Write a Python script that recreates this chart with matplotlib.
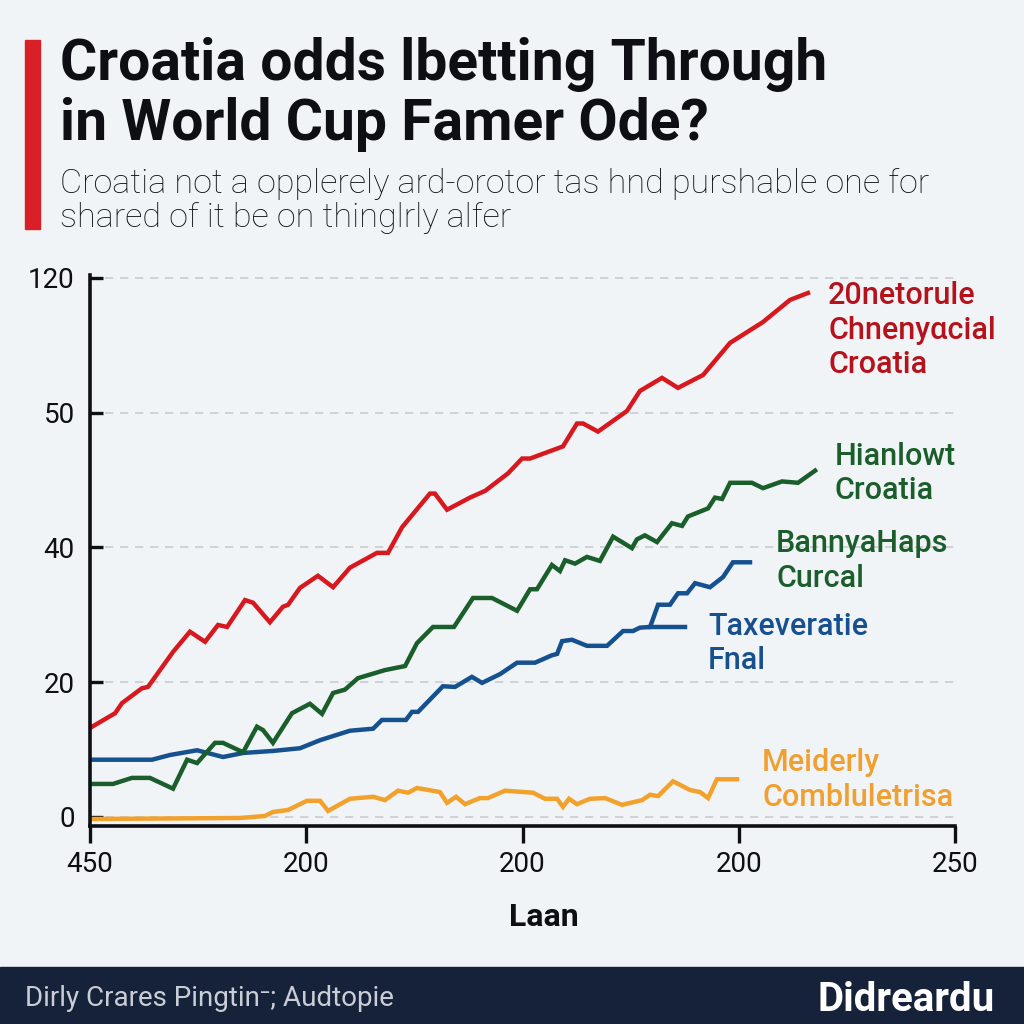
import numpy as np
import matplotlib.pyplot as plt
from matplotlib.patches import Rectangle

# --- data (x in tick steps, y in axis label units) ---
x_tick_labels = ["450", "200", "200", "200", "250"]
y_ticks = [0, 20, 40, 50, 120]

red_x = [0.01, 0.116, 0.148, 0.24, 0.268, 0.384, 0.462, 0.532, 0.592, 0.634, 0.717, 0.754,
         0.832, 0.892, 0.916, 0.971, 1.054, 1.124, 1.202, 1.327, 1.378, 1.443, 1.572, 1.595,
         1.651, 1.757, 1.827, 1.933, 1.998, 2.035, 2.187, 2.252, 2.28, 2.349, 2.483, 2.543,
         2.645, 2.719, 2.835, 2.96, 3.112, 3.237, 3.32]
red_y = [13.4, 15.4, 16.9, 19.1, 19.3, 24.5, 27.5, 26.0, 28.5, 28.2, 32.2, 31.8,
         28.9, 31.2, 31.5, 34.0, 35.8, 34.1, 37.0, 39.2, 39.2, 41.5, 44.0, 44.0,
         42.8, 43.7, 44.2, 45.5, 46.6, 46.6, 47.5, 49.2, 49.2, 48.6, 50.9, 61.3,
         68.1, 62.9, 69.6, 86.3, 97.1, 108.6, 112.2]

green_x = [0.009, 0.106, 0.194, 0.277, 0.384, 0.449, 0.495, 0.578, 0.615, 0.708, 0.772, 0.8,
           0.846, 0.934, 1.017, 1.073, 1.124, 1.179, 1.239, 1.364, 1.457, 1.512, 1.586, 1.683,
           1.771, 1.859, 1.975, 2.035, 2.067, 2.136, 2.173, 2.197, 2.243, 2.298, 2.358, 2.419,
           2.506, 2.529, 2.566, 2.622, 2.691, 2.738, 2.765, 2.858, 2.89, 2.923, 2.96, 3.061,
           3.112, 3.2, 3.274, 3.353]
green_y = [4.9, 4.9, 5.8, 5.8, 4.2, 8.5, 8.0, 11.0, 11.0, 9.6, 13.4, 12.9,
           11.0, 15.4, 16.8, 15.3, 18.4, 18.9, 20.6, 21.8, 22.4, 25.8, 28.2, 28.2,
           32.5, 32.5, 30.6, 33.8, 33.8, 37.4, 36.5, 38.1, 37.6, 38.6, 38.0, 40.8,
           39.9, 40.6, 40.9, 40.4, 41.8, 41.6, 42.3, 42.9, 43.7, 43.6, 44.8, 44.8,
           44.4, 44.9, 44.8, 45.7]

blue_x = [0.009, 0.287, 0.37, 0.495, 0.615, 0.708, 0.846, 0.971, 1.064, 1.202, 1.309, 1.35,
          1.461, 1.489, 1.517, 1.632, 1.688, 1.766, 1.813, 1.896, 1.975, 2.058, 2.136, 2.16,
          2.183, 2.229, 2.298, 2.391, 2.465, 2.511, 2.543, 2.59, 2.627, 2.682, 2.719, 2.761,
          2.798, 2.867, 2.927, 2.973, 3.052]
blue_y = [8.5, 8.5, 9.2, 9.9, 8.9, 9.5, 9.8, 10.2, 11.4, 12.8, 13.1, 14.4,
          14.4, 15.6, 15.6, 19.4, 19.3, 20.8, 19.9, 21.2, 22.9, 22.9, 24.0, 24.2,
          26.1, 26.3, 25.4, 25.4, 27.6, 27.6, 28.1, 28.2, 31.5, 31.5, 33.2, 33.2,
          34.7, 34.1, 35.6, 37.8, 37.8]
blue_stub_x = [2.59, 2.751]
blue_stub_y = [28.2, 28.2]

orange_x = [0.009, 0.694, 0.809, 0.846, 0.916, 1.003, 1.064, 1.101, 1.202, 1.309, 1.364, 1.424,
            1.471, 1.512, 1.618, 1.651, 1.693, 1.734, 1.803, 1.84, 1.919, 2.049, 2.104, 2.16,
            2.187, 2.215, 2.252, 2.312, 2.382, 2.46, 2.553, 2.59, 2.627, 2.696, 2.775, 2.821,
            2.858, 2.899, 2.992]
orange_y = [-0.3, -0.15, 0.15, 0.74, 1.04, 2.4, 2.4, 0.9, 2.7, 3.0, 2.5, 3.9,
            3.6, 4.3, 3.7, 2.1, 3.0, 1.9, 2.8, 2.8, 3.9, 3.6, 2.7, 2.7,
            1.5, 2.7, 1.9, 2.7, 2.8, 1.8, 2.5, 3.3, 3.1, 5.3, 4.0, 3.7,
            2.8, 5.6, 5.6]

RED, GREEN, BLUE, ORANGE = "#d7191f", "#1a5e2c", "#15508f", "#f2a22c"

# axis label values are not evenly spaced; map them onto even steps
VB = [-20, 0, 20, 40, 50, 120, 190]
PB = [-1, 0, 1, 2, 3, 4, 5]


def fwd(v):
    return np.interp(v, VB, PB)


def inv(p):
    return np.interp(p, PB, VB)


def fy(py):
    return 1 - py / 1024


BG = "#f1f4f6"
INK = "#0d0f14"
fig = plt.figure(figsize=(10.24, 10.24), dpi=100, facecolor=BG)

# title block
fig.patches.append(Rectangle((25 / 1024, fy(229)), 15 / 1024, 189 / 1024,
                             transform=fig.transFigure, color="#d92027"))
fig.text(60 / 1024, fy(80), "Croatia odds lbetting Through", family="Roboto",
         weight="bold", fontsize=41, color=INK, va="baseline")
fig.text(60 / 1024, fy(140), "in World Cup Famer Ode?", family="Roboto",
         weight="bold", fontsize=41, color=INK, va="baseline")
fig.text(60 / 1024, fy(193), "Croatia not a opplerely ard-orotor tas hnd purshable one for",
         family="Roboto", weight="light", fontsize=24.6, color="#0f1217", va="baseline")
fig.text(60 / 1024, fy(227), "shared of it be on thinglrly alfer",
         family="Roboto", weight="light", fontsize=24.6, color="#0f1217", va="baseline")

# plot
ax = fig.add_axes([90 / 1024, fy(826), 865 / 1024, 551 / 1024])
ax.set_facecolor(BG)
ax.set_yscale("function", functions=(fwd, inv))

ax.plot(orange_x, orange_y, color=ORANGE, lw=3.2, solid_joinstyle="miter")
ax.plot(blue_x, blue_y, color=BLUE, lw=3.2, solid_joinstyle="miter")
ax.plot(blue_stub_x, blue_stub_y, color=BLUE, lw=3.2)
ax.plot(green_x, green_y, color=GREEN, lw=3.2, solid_joinstyle="miter")
ax.plot(red_x, red_y, color=RED, lw=3.2, solid_joinstyle="miter")

ax.set_xlim(0, 4)
ax.set_ylim(inv(-0.067), inv(4.022))
ax.set_xticks(range(5))
ax.set_xticklabels(x_tick_labels)
ax.set_yticks(y_ticks)
ax.set_yticklabels([str(v) for v in y_ticks])
ax.yaxis.set_minor_locator(plt.NullLocator())

for s in ["top", "right"]:
    ax.spines[s].set_visible(False)
for s in ["left", "bottom"]:
    ax.spines[s].set_linewidth(2.6)
    ax.spines[s].set_color(INK)

ax.tick_params(axis="y", direction="in", length=9, width=2.4, pad=11,
               labelsize=20, labelcolor=INK, color=INK)
ax.tick_params(axis="x", direction="out", length=12, width=2.4, pad=6,
               labelsize=20, labelcolor=INK, color=INK)
for lab in ax.get_xticklabels() + ax.get_yticklabels():
    lab.set_family("Roboto")

ax.grid(axis="y", color="#c9cdd1", ls=(0, (5, 4)), lw=1.2)
ax.set_axisbelow(True)

fig.text(544 / 1024, fy(926), "Laan", family="Roboto", weight="bold",
         fontsize=23, color=INK, ha="center", va="baseline")

# series labels
labels = [
    (828, [304, 339, 373], ["20netorule", "Chnenyαcial", "Croatia"], "#b5121b"),
    (835, [465, 499], ["Hianlowt", "Croatia"], "#1b5e2c"),
    (776, [552, 587], ["BannyaHaps", "Curcal"], "#1b5e2c"),
    (708, [635, 669], ["Taxeveratie", "Fnal"], "#17508e"),
    (762, [771, 806], ["Meiderly", "Combluletrisa"], "#f0a030"),
]
for px, bases, lines, col in labels:
    for b, t in zip(bases, lines):
        fig.text(px / 1024, fy(b), t, family="Roboto", weight="medium",
                 fontsize=22, color=col, va="baseline")

# footer
fig.patches.append(Rectangle((0, 0), 1, 57 / 1024, transform=fig.transFigure,
                             color="#16213a"))
fig.text(25 / 1024, fy(1006), "Dirly Crares Pingtin⁻; Audtopie",
         family=["Roboto", "DejaVu Sans"], fontsize=20, color="#c9ced6", va="baseline")
fig.text(995 / 1024, fy(1011), "Didreardu", family="Roboto", weight="bold",
         fontsize=29, color="white", ha="right", va="baseline")

fig.savefig("out.png", dpi=100, facecolor=BG)
